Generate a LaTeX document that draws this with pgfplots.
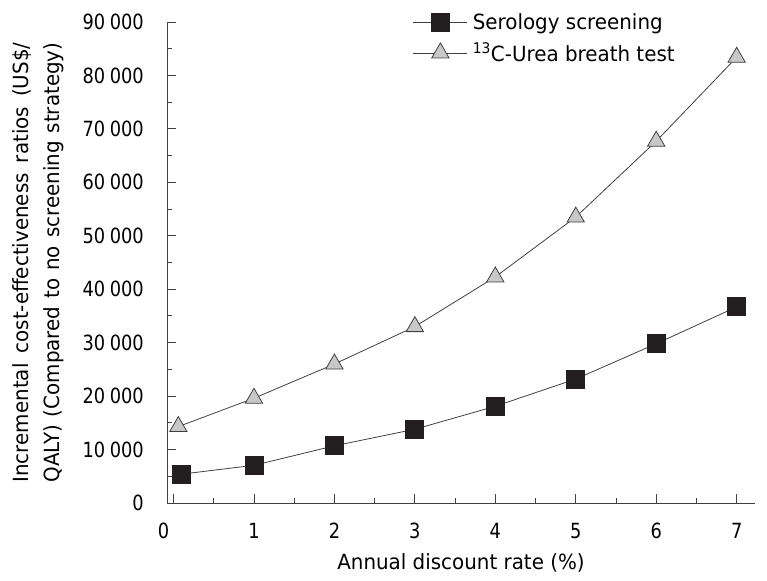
\documentclass[border=0pt]{standalone}
\usepackage{fontspec}
\setmainfont{DejaVu Sans}[FakeStretch=0.95]
\newfontfamily\tickfont{DejaVu Sans}[FakeStretch=0.85]
\usepackage{pgfplots}
\pgfplotsset{compat=1.18}
\definecolor{sqfill}{HTML}{231F20}
\definecolor{trifill}{HTML}{C8C8C8}
\definecolor{linec}{HTML}{404040}
\begin{document}
\begin{tikzpicture}
\useasboundingbox (-167bp,-78bp) rectangle (600bp,503bp);
\begin{axis}[
  at={(0,0)}, anchor=south west,
  scale only axis, width=588bp, height=481bp,
  font=\fontsize{21}{25}\selectfont,
  tick label style={font=\tickfont\fontsize{21}{25}\selectfont},
  axis lines=left, axis line style={-, linec, line width=0.9pt},
  xmin=-0.081, xmax=7.228, ymin=0, ymax=90000,
  xtick={0,1,...,7}, ytick={0,10000,...,90000},
  xticklabels={0\kern20bp,1,2,3,4,5,6,7},
  minor x tick num=1, minor y tick num=1,
  tick align=inside,
  major tick length=9bp, minor tick length=5bp,
  tick style={linec, line width=0.9pt},
  scaled y ticks=false,
  /pgf/number format/.cd, 1000 sep={\hspace{0.22em}}, assume math mode=true, /pgfplots/.cd,
  yticklabel style={anchor=east, inner sep=0pt, inner xsep=3bp, xshift=-20bp},
  xticklabel style={anchor=north, inner sep=0pt, text height=25bp, yshift=-10bp},
  xlabel={Annual discount rate (\%)},
  xlabel style={at={(axis description cs:0.5,0)}, anchor=north, yshift=-47bp},
  ylabel={\makebox[440bp][s]{Incremental cost-effectiveness ratios (US\$/}\\[6bp]\makebox[440bp][s]{QALY) (Compared to no screening strategy)}},
  ylabel style={at={(axis description cs:-0.219,0.5)}, anchor=center, align=center},
  legend style={at={(axis description cs:0.418,1.022)}, anchor=north west, draw=none, fill=none, row sep=8bp, font=\fontsize{21}{25}\selectfont, inner sep=0pt, nodes={inner xsep=5bp}},
  legend cell align=left,
  legend image code/.code={\draw[mark repeat=2, mark phase=2] plot coordinates {(0bp,0bp) (27bp,0bp) (54bp,0bp)};},
]
\addplot[linec, line width=0.8pt, mark=square*, mark size=9bp, mark options={fill=sqfill, draw=sqfill}]
coordinates {(0.1,5400) (1,7050) (2,10700) (3,13800) (4,18100) (5,23200) (6,29800) (7,36700)};
\addlegendentry{Serology screening}
\addplot[linec, line width=0.8pt, mark=triangle*, mark size=10bp, mark options={fill=trifill, draw=linec, line width=0.8pt}]
coordinates {(0.06,14300) (1,19600) (2,26000) (3,33000) (4,42300) (5,53500) (6,67700) (7,83400)};
\addlegendentry{\textsuperscript{13}C-Urea breath test}
\end{axis}
\end{tikzpicture}
\end{document}
